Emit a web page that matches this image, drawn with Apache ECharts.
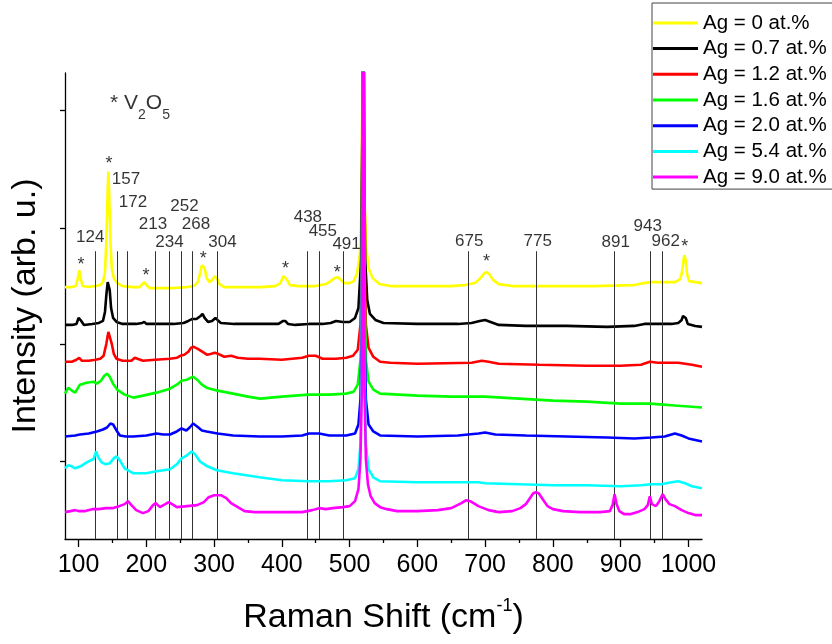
<!DOCTYPE html>
<html><head><meta charset="utf-8">
<script src="https://cdn.jsdelivr.net/npm/echarts@6/dist/echarts.min.js"></script>
<style>html,body{margin:0;padding:0;background:#fff}#c{width:832px;height:644px}</style>
</head><body><div id="c"></div>
<script>
const FONT = '"Liberation Sans", Arial, sans-serif';
const seriesNames = ['Ag = 0 at.%','Ag = 0.7 at.%','Ag = 1.2 at.%','Ag = 1.6 at.%','Ag = 2.0 at.%','Ag = 5.4 at.%','Ag = 9.0 at.%'];
const seriesColors = ['#ffff00','#000000','#ff0000','#00ff00','#0000ff','#00ffff','#ff00ff'];

const ag00 = [[80,253],[90,253],[96,254],[99,262],[101,270],[103,262],[106,254],[115,253],[125,254],[132,255],[136,258],[139,268],[141,300],[143,350],[144,369],[145,352],[147,300],[149,272],[152,262],[157,257],[165,254],[180,253],[190,253],[194,256],[197,258],[200,255],[205,252],[220,252],[240,252],[260,253],[270,254],[276,258],[279,266],[282,275],[284,277],[286,272],[289,262],[293,258],[297,260],[301,264],[304,262],[308,256],[315,253],[340,253],[370,253],[390,254],[398,257],[402,264],[404,265],[407,261],[412,255],[425,254],[450,254],[465,256],[472,259],[478,262],[482,263],[486,261],[492,257],[500,257],[506,259],[511,267],[515,285],[518,340],[520,700],[522,340],[525,290],[528,272],[534,262],[544,256],[560,254],[600,254],[650,254],[670,255],[685,257],[693,262],[699,267],[702,268],[706,266],[712,260],[720,256],[740,254],[800,254],[860,254],[920,255],[935,257],[945,258],[960,258],[980,258],[988,261],[991,270],[993,282],[994,285],[996,280],[998,266],[1001,259],[1010,258],[1020,257]];
const ag07 = [[80,215],[90,215],[97,216],[100,222],[102,223],[104,219],[108,215],[120,216],[130,217],[136,219],[139,228],[141,245],[143,258],[144,260],[146,250],[148,232],[151,222],[156,218],[165,216],[185,216],[194,217],[197,218],[200,216],[220,216],[240,216],[255,217],[262,219],[268,221],[274,221],[280,224],[283,226],[286,222],[291,218],[297,219],[302,222],[305,220],[310,217],[330,216],[370,216],[395,216],[402,219],[405,219],[409,216],[420,215],[440,216],[460,216],[472,217],[480,219],[490,218],[500,218],[508,222],[513,232],[517,280],[519,420],[520,700],[521,420],[523,280],[526,240],[530,226],[538,220],[550,217],[600,216],[660,216],[680,217],[692,219],[700,220],[708,218],[720,215],[760,214],[820,214],[880,213],[920,214],[935,216],[950,216],[975,216],[985,217],[990,220],[992,224],[994,225],[996,222],[999,216],[1010,214],[1020,213]];
const ag12 = [[80,178],[90,178],[97,180],[101,182],[105,179],[115,179],[125,180],[132,181],[137,184],[141,196],[144,208],[146,208],[149,196],[152,186],[156,181],[165,179],[178,179],[183,182],[187,181],[195,179],[213,180],[235,181],[245,182],[250,184],[256,185],[262,188],[266,192],[270,193],[276,191],[283,188],[290,185],[296,186],[301,187],[306,186],[315,183],[325,184],[335,182],[350,181],[367,181],[400,180],[430,182],[440,184],[450,184],[460,181],[480,181],[495,182],[505,184],[512,190],[516,215],[518,280],[520,700],[522,280],[524,215],[528,192],[535,183],[545,178],[560,177],[600,176],[680,177],[695,179],[705,178],[720,176],[780,175],[850,174],[900,174],[930,175],[943,178],[955,177],[970,177],[985,177],[995,176],[1005,175],[1020,173]];
const ag16 = [[80,146],[85,152],[90,149],[95,147],[102,155],[112,157],[122,158],[127,156],[133,159],[138,164],[142,166],[146,163],[151,156],[157,150],[168,145],[181,142],[195,144],[215,147],[235,151],[245,155],[252,159],[260,160],[269,163],[275,160],[282,155],[289,152],[305,149],[328,146],[350,143],[368,141],[400,143],[440,145],[470,145],[495,146],[506,148],[512,155],[516,180],[518,250],[520,700],[522,250],[524,180],[528,158],[535,150],[545,146],[600,144],[650,143],[700,143],[750,141],[800,139],[850,138],[900,136],[943,136],[980,134],[1000,133],[1020,132]];
const ag20 = [[80,103],[95,104],[102,105],[115,106],[127,108],[136,110],[142,112],[147,116],[151,115],[156,109],[161,104],[170,103],[181,103],[200,104],[215,106],[225,105],[235,105],[245,108],[252,111],[259,109],[264,112],[269,116],[275,113],[282,109],[289,108],[305,106],[328,104],[367,103],[400,103],[430,104],[440,106],[455,106],[470,104],[495,104],[508,106],[513,115],[516,140],[518,210],[520,700],[522,210],[524,140],[528,115],[535,108],[545,104],[600,103],[660,104],[690,106],[700,107],[715,105],[760,104],[820,103],[880,102],[920,101],[945,102],[965,103],[980,106],[990,104],[1000,101],[1020,98]];
const ag54 = [[80,71],[85,74],[90,73],[95,71],[103,73],[112,77],[118,79],[122,80],[124,84],[126,88],[129,82],[134,77],[140,75],[146,76],[152,81],[156,83],[160,80],[168,71],[181,66],[200,66],[215,68],[235,70],[245,75],[252,81],[260,84],[267,88],[272,85],[279,78],[290,73],[304,69],[328,66],[367,62],[400,59],[440,58],[470,58],[495,59],[508,61],[513,70],[516,95],[518,170],[520,700],[522,170],[524,95],[528,70],[535,62],[545,58],[600,57],[650,57],[690,57],[700,56],[750,55],[800,54],[850,54],[900,53],[930,54],[945,55],[960,55],[975,57],[985,58],[995,56],[1005,53],[1020,51]];
const ag90 = [[80,27],[88,28],[95,29],[100,28],[110,28],[120,30],[130,30],[140,31],[150,31],[160,33],[168,35],[173,38],[178,34],[185,29],[195,26],[203,28],[210,34],[214,36],[220,32],[228,35],[233,37],[238,35],[245,32],[260,33],[275,34],[285,37],[292,42],[300,44],[310,44],[318,41],[325,36],[335,32],[345,28],[360,27],[400,27],[430,27],[445,29],[455,31],[465,30],[475,31],[490,32],[500,33],[508,38],[513,50],[516,80],[518,150],[520,700],[522,150],[524,80],[527,55],[531,43],[537,36],[545,32],[555,30],[570,28],[600,28],[630,29],[650,31],[665,36],[672,39],[678,38],[690,33],[705,29],[720,27],[740,28],[752,31],[760,35],[766,41],[771,46],[775,47],[779,46],[785,40],[792,33],[800,30],[815,28],[840,27],[870,27],[884,28],[888,34],[891,45],[894,35],[898,28],[905,25],[915,25],[925,27],[935,30],[940,34],[943,43],[946,35],[952,33],[957,38],[962,45],[966,40],[972,35],[980,33],[990,29],[1000,26],[1010,24],[1020,24]];
const seriesData = [ag00, ag07, ag12, ag16, ag20, ag54, ag90];

const xTickVals = [100,200,300,400,500,600,700,800,900,1000];
const xMinorVals = [150,250,350,450,550,650,750,850,950];
const yTickVals = [77.7,195.3,312,430.3];

const peakLines = [124,157,172,213,234,252,268,304,438,455,491,675,775,891,943,962];
const peakLineTop = 289;
const peakLabels = ['124','157','172','213','234','252','268','304','438','455','491','675','775','891','943','962'];
const peakLabelX = [117.3,170,180.3,209.8,234.1,256.3,273.2,312.3,438.4,460.5,495.5,676.6,777.6,892.7,939.9,966.4];
const peakLabelY = [302.7,361,338,316,298,334,316,298.3,323.3,309.3,296,299.3,299.3,297.7,314.3,299.3];
const starX = [103.6,144.9,199.5,284,405.5,481.7,702,994.4];
const starY = [279.3,381,267.7,285,275,271,281.7,297.7];
const noteX = 146.4, noteY = 437.5;

const chart = echarts.init(document.getElementById('c'), null, {renderer:'canvas'});
const axisColor = '#000';
const series = seriesData.map((d,i)=>({
  type:'line', name:seriesNames[i], data:d, showSymbol:false, symbol:'none',
  lineStyle:{width:2.6,color:seriesColors[i]}, itemStyle:{color:seriesColors[i]},
  clip:true, z:3+i, silent:true
}));
series.unshift({
  type:'line', data:[], silent:true, z:1,
  markLine:{silent:true, symbol:['none','none'], animation:false, label:{show:false},
    lineStyle:{color:'#333', width:1, type:'solid'},
    data: peakLines.map(v=>[{coord:[v,0]},{coord:[v,peakLineTop]}])}
});
series.push({
  type:'scatter', silent:true, z:20, symbolSize:0,
  data: peakLabels.map((t,i)=>({name:t, value:[peakLabelX[i], peakLabelY[i]]})),
  label:{show:true, position:'inside', formatter:'{b}', fontSize:17, color:'#000', fontFamily:FONT}
});
series.push({
  type:'scatter', silent:true, z:20, symbolSize:0,
  data: starX.map((x,i)=>({name:'*', value:[x, starY[i]]})),
  label:{show:true, position:'inside', formatter:'{b}', fontSize:18, color:'#000', fontFamily:FONT, offset:[0,4]}
});
series.push({
  type:'scatter', silent:true, z:20, symbolSize:0,
  data:[{name:'V2O5', value:[noteX, noteY]}],
  label:{show:true, position:'inside', align:'left', verticalAlign:'middle',
    formatter:'{a|* V}{s|2}{a|O}{s|5}', color:'#000', fontFamily:FONT,
    rich:{a:{fontSize:21, lineHeight:38, color:'#000', fontFamily:FONT},
          s:{fontSize:14, lineHeight:14, padding:[24,0,0,0], color:'#000', fontFamily:FONT}}}
});

chart.setOption({
  animation:false,
  backgroundColor:'#fff',
  textStyle:{fontFamily:FONT},
  grid:{left:65, top:73, width:637, height:468},
  legend:{
    data:seriesNames, orient:'vertical', left:652, top:3, itemWidth:45, itemHeight:3, itemGap:4.7,
    icon:'rect', padding:[9.4,40,1.5,1], borderColor:'#444', borderWidth:1, backgroundColor:'#fff',
    textStyle:{fontSize:20.5, color:'#000', fontFamily:FONT}, selectedMode:false
  },
  xAxis:[{
    type:'value', min:80, max:1020,
    axisLine:{show:true, lineStyle:{color:axisColor, width:1.3}},
    axisTick:{show:true, customValues:xTickVals, length:8, lineStyle:{color:axisColor, width:1.3}},
    axisLabel:{show:true, customValues:xTickVals, fontSize:25, color:'#000', margin:14, fontFamily:FONT,
      formatter:v=>String(v)},
    splitLine:{show:false},
    name:'{m|Raman Shift (cm}{s|-1}{m|)}', nameLocation:'middle', nameGap:59,
    nameTextStyle:{color:'#000', fontFamily:FONT, fontSize:34,
      rich:{m:{fontSize:34, lineHeight:40, color:'#000', fontFamily:FONT},
            s:{fontSize:18, lineHeight:16, padding:[0,0,24,0], color:'#000', fontFamily:FONT}}}
  },{
    type:'value', min:80, max:1020, position:'bottom',
    axisLine:{show:false},
    axisTick:{show:true, customValues:xMinorVals, length:4, lineStyle:{color:axisColor, width:1.3}},
    axisLabel:{show:false}, splitLine:{show:false}
  }],
  yAxis:{
    type:'value', min:0, max:468,
    axisLine:{show:true, lineStyle:{color:axisColor, width:1.3}},
    axisTick:{show:true, customValues:yTickVals, length:5, lineStyle:{color:axisColor, width:1.3}},
    axisLabel:{show:false}, splitLine:{show:false},
    name:'Intensity (arb. u.)', nameLocation:'middle', nameGap:22,
    nameTextStyle:{fontSize:34, color:'#000', fontFamily:FONT}
  },
  series:series
});
</script></body></html>
